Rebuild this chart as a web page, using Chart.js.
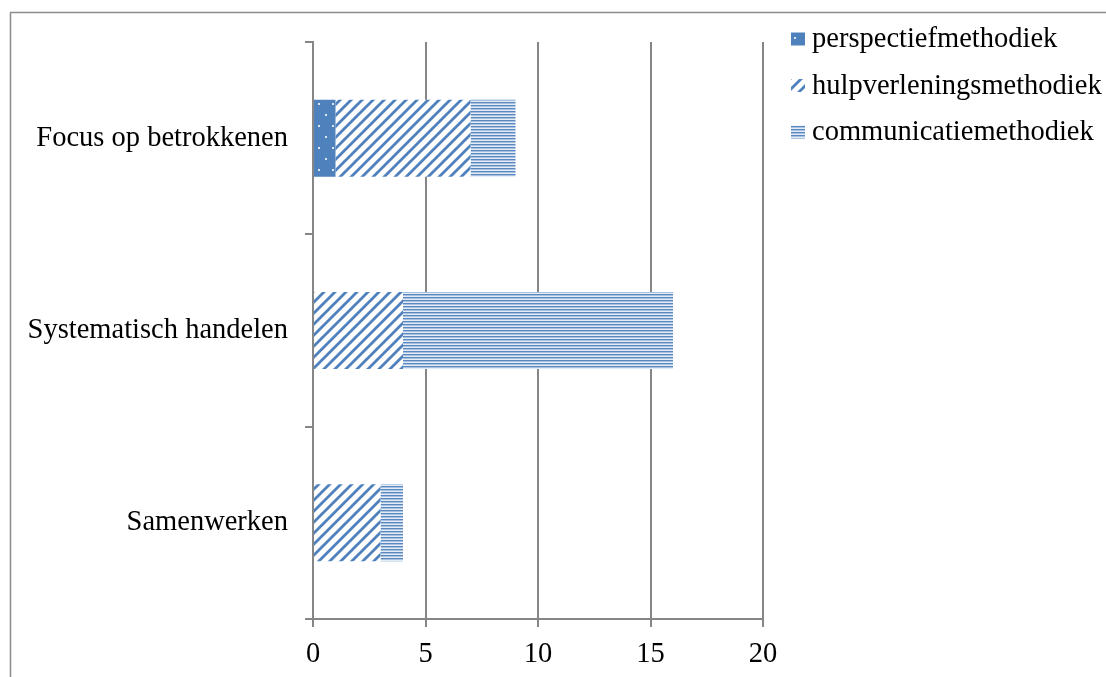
<!DOCTYPE html>
<html>
<head>
<meta charset="utf-8">
<script src="https://cdn.jsdelivr.net/npm/chart.js@4/dist/chart.umd.min.js"></script>
<style>
  html, body { margin: 0; padding: 0; background: #ffffff; }
  #wrap { width: 1106px; height: 677px; position: relative; }
</style>
</head>
<body>
<div id="wrap"><canvas id="c" width="1106" height="677"></canvas></div>
<script>
// Categories (top to bottom) and stacked series values
const categories = ['Focus op betrokkenen', 'Systematisch handelen', 'Samenwerken'];
const seriesNames = ['perspectiefmethodiek', 'hulpverleningsmethodiek', 'communicatiemethodiek'];
const perspectief = [1, 0, 0];
const hulpverlening = [6, 4, 3];
const communicatie = [2, 12, 1];
const xTicks = [0, 5, 10, 15, 20];

const FONT = "'Liberation Serif', 'DejaVu Serif', serif";
const FONT_SIZE = 28.5;
const BLUE = '#4F81BD';
const AXIS = '#868686';

// Fill patterns
function makePattern(w, h, draw) {
  const c = document.createElement('canvas');
  c.width = w; c.height = h;
  const g = c.getContext('2d');
  draw(g, w, h);
  return g.createPattern(c, 'repeat');
}

const dotted = makePattern(14, 22, (g, w, h) => {
  g.fillStyle = BLUE; g.fillRect(0, 0, w, h);
  g.fillStyle = 'rgba(255,255,255,0.8)';
  g.fillRect(3, 4, 2, 2);
  g.fillRect(10, 15, 2, 2);
});
const diagonal = makePattern(11, 11, (g, w, h) => {
  g.fillStyle = '#ffffff'; g.fillRect(0, 0, w, h);
  g.strokeStyle = BLUE; g.lineWidth = 2.8;
  g.beginPath();
  g.moveTo(-2, h + 2); g.lineTo(w + 2, -2);
  g.moveTo(-2, 2); g.lineTo(2, -2);
  g.moveTo(w - 2, h + 2); g.lineTo(w + 2, h - 2);
  g.stroke();
});
const horizontal = makePattern(4, 3, (g, w, h) => {
  g.fillStyle = '#E3EBF5'; g.fillRect(0, 0, w, h);
  g.fillStyle = '#5A89C2'; g.fillRect(0, 0, w, 1);
  g.fillStyle = '#A9C0DF'; g.fillRect(0, 1, w, 1);
});
const fills = [dotted, diagonal, horizontal];

// Outer frame and legend
const framePlugin = {
  id: 'frame',
  beforeDraw(chart) {
    const ctx = chart.ctx;
    ctx.save();
    ctx.strokeStyle = '#8c8c8c';
    ctx.lineWidth = 1.5;
    ctx.strokeRect(10.5, 12.5, 1300, 900);
    ctx.restore();
  },
  afterDraw(chart) {
    const ctx = chart.ctx;
    ctx.save();
    ctx.font = FONT_SIZE + 'px ' + FONT;
    ctx.textBaseline = 'middle';
    chart.data.datasets.forEach((ds, i) => {
      const cy = 39 + i * 46.5;
      ctx.fillStyle = ds.backgroundColor;
      ctx.fillRect(791, cy - 6.5, 14, 13);
      ctx.fillStyle = '#000000';
      ctx.fillText(ds.label, 812, cy + 1);
    });
    ctx.restore();
  }
};

const data = [perspectief, hulpverlening, communicatie];

new Chart(document.getElementById('c'), {
  type: 'bar',
  data: {
    labels: categories,
    datasets: seriesNames.map((name, i) => ({
      label: name,
      data: data[i],
      backgroundColor: fills[i],
      borderWidth: 0,
      categoryPercentage: 0.4,
      barPercentage: 1.0
    }))
  },
  options: {
    indexAxis: 'y',
    responsive: false,
    animation: false,
    devicePixelRatio: 1,
    layout: { padding: { left: 0, top: 42, right: 343, bottom: 0 } },
    plugins: {
      legend: { display: false },
      tooltip: { enabled: false }
    },
    scales: {
      x: {
        stacked: true,
        min: 0, max: 20,
        afterBuildTicks(scale) { scale.ticks = xTicks.map(v => ({ value: v })); },
        afterFit(scale) { scale.height = 58; },
        grid: { color: AXIS, lineWidth: 2, tickLength: 8, drawTicks: true },
        border: { display: true, color: AXIS, width: 2 },
        ticks: { color: '#000', font: { family: FONT, size: FONT_SIZE }, padding: 10 }
      },
      y: {
        stacked: true,
        afterFit(scale) { scale.width = 313; },
        grid: { offset: true, drawOnChartArea: false, color: AXIS, lineWidth: 2, tickLength: 8 },
        border: { display: true, color: AXIS, width: 2 },
        ticks: { color: '#000', font: { family: FONT, size: FONT_SIZE }, padding: 17 }
      }
    }
  },
  plugins: [framePlugin]
});
</script>
</body>
</html>
